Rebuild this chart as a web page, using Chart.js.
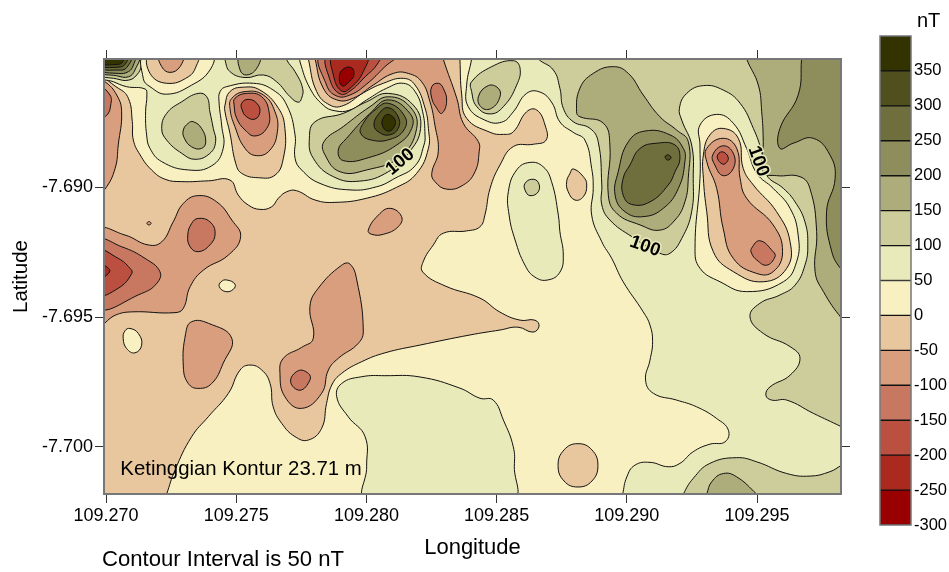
<!DOCTYPE html>
<html>
<head>
<meta charset="utf-8">
<title>Contour map</title>
<script src="https://cdn.jsdelivr.net/npm/chart.js@4/dist/chart.umd.min.js"></script>
<style>
html, body { margin: 0; padding: 0; background: #fff; }
#wrap { position: relative; width: 949px; height: 572px; }
canvas { position: absolute; left: 0; top: 0; }
</style>
</head>
<body>
<div id="wrap">
<canvas id="mapChart" width="949" height="572"></canvas>
<canvas id="barChart" width="949" height="572"></canvas>
</div>
<script>
// axis values
var lonTicks = [109.270, 109.275, 109.280, 109.285, 109.290, 109.295];
var latTicks = [-7.690, -7.695, -7.700];
var levels = [-300, -250, -200, -150, -100, -50, 0, 50, 100, 150, 200, 250, 300, 350];
var bandColors = ['#990000', '#AA2A1F', '#BB5040', '#C87860', '#D99E7D', '#E8C69E', '#F8F0C0',
                  '#E9EAB9', '#CCCD9A', '#ADAD7B', '#8D8E5B', '#6E6F3C', '#50501E', '#333300'];

// contours, [east, south] in 0.001 deg from 109.270 E / 7.690 S
var wholeMap = [[-.3,-5.1],[28.42,-5.1],[28.42,12],[-.3,12]];
var tanMain = [[-.3,-4.14],[.47,-3.82],[.86,-3.43],[1.01,-2.53],[1.05,-1.82],[1.31,-1.25],[1.75,-.67],[2.27,-.31],[2.91,-.22],[3.93,-.25],[4.76,-.28],[5.08,.30],[5.46,.68],[5.91,.85],[6.36,.75],[6.62,.42],[6.94,.17],[7.32,.13],[8.03,.49],[8.79,.58],[10.01,.42],[11.16,0],[11.93,-.54],[12.38,-1.50],[12.38,-2.27],[12.25,-3.06],[11.87,-3.94],[11.42,-4.20],[10.65,-4.01],[9.88,-3.64],[9.11,-3.15],[8.60,-3.17],[8.09,-3.69],[7.77,-4.95],[7.76,-5.1],[13.59,-5.1],[13.59,-4.95],[13.66,-3.56],[13.85,-2.66],[14.75,-2.12],[15.26,-2.04],[15.64,-2.14],[16.15,-2.91],[16.54,-2.98],[16.86,-2.40],[16.90,-1.82],[16.41,-1.66],[15.64,-1.57],[15.13,-.86],[14.75,.04],[14.55,1.07],[14.36,1.52],[13.85,1.68],[12.95,1.77],[12.57,2.22],[12.18,2.87],[12.17,3.27],[13.02,3.80],[14.36,4.27],[15.13,4.81],[15.90,5.12],[16.47,5.12],[16.63,5.35],[16.40,5.58],[15.82,5.39],[15.13,5.50],[13.98,5.69],[12.06,6.08],[10.71,6.38],[9.82,6.72],[9.05,7.17],[8.67,7.62],[8.47,8.33],[8.28,9.29],[7.77,9.74],[7.26,9.61],[6.75,9.10],[6.42,8.46],[6.30,7.56],[5.98,7.04],[5.53,6.85],[5.15,7.04],[4.70,7.94],[3.93,8.84],[3.29,9.61],[2.65,10.90],[2.33,11.82],[2.27,12],[-.3,12]];
var edgeNeg50 = [[-.3,-4.10],[-.04,-4.07],[.41,-3.56],[.60,-2.91],[.47,-1.63],[.35,-.73],[-.04,.07],[-.3,.18]];
var edgeNeg100 = [[-.3,-3.90],[.15,-3.56],[.18,-3.17],[.03,-2.78],[-.3,-2.67]];
var lobeNeg50 = [[-.3,1.68],[.73,1.84],[1.62,2.22],[2.14,2.10],[2.58,1.33],[2.97,.62],[3.54,.32],[4.25,.56],[4.83,1.26],[5.17,1.90],[4.70,2.61],[3.74,3.19],[3.23,3.83],[2.97,4.66],[2.65,4.83],[.99,4.80],[.35,4.93],[-.3,5.31]];
var lobeNeg100 = [[-.3,2.07],[.60,2.29],[1.50,2.74],[2.07,3.25],[1.95,3.70],[1.37,4.09],[-.3,4.61]];
var lobeNeg150 = [[-.3,2.46],[.47,2.74],[.92,3.12],[.99,3.32],[.47,3.89],[-.3,4.11]];
var lobeNeg200 = [[-.3,2.96],[.15,3.22],[-.3,3.50]];
var ovalNeg100 = [[3.54,1.20],[3.99,1.33],[4.19,1.77],[3.99,2.22],[3.54,2.48],[3.23,2.29],[3.14,1.84],[3.29,1.39]];
var tinyNeg50 = [[1.65,1.32],[1.73,1.39],[1.65,1.45],[1.57,1.39]];
var midNeg50 = [[10.07,1.65],[10.46,1.07],[10.91,.81],[11.35,1.13],[11.22,1.52],[10.65,1.81],[10.20,1.81]];
var creamA = [[4.63,3.57],[4.95,3.73],[4.89,3.93],[4.60,4.02],[4.35,3.83],[4.42,3.64]];
var creamB = [[.92,5.44],[1.24,5.63],[1.37,6.08],[1.11,6.38],[.79,6.21],[.66,5.82],[.73,5.53]];
var lowNeg50C = [[3.29,5.18],[3.93,5.24],[4.83,5.82],[4.50,6.78],[4.06,7.56],[3.54,7.75],[3.16,7.56],[2.97,6.92],[3.06,5.63]];
var lowNeg50D = [[9.37,2.96],[9.63,3.57],[9.88,5.50],[9.69,6.01],[8.92,6.59],[8.54,7.04],[8.28,7.94],[7.51,8.52],[6.87,8.07],[6.68,7.17],[6.81,6.59],[7.51,6.17],[7.96,5.82],[7.83,4.60],[8.15,3.89],[9.05,3.00]];
var lowNeg100E = [[7.38,7.07],[7.77,7.17],[7.83,7.43],[7.45,7.82],[7.09,7.49]];
var topNeg50 = [[12.95,-5.1],[12.95,-4.95],[13.47,-3.43],[13.72,-2.47],[14.30,-1.76],[14.33,-1.37],[14.17,-.60],[13.72,-.09],[13.08,.07],[12.63,-.22],[12.51,-.54],[12.76,-1.37],[12.63,-2.40],[12.44,-3.30],[12.12,-4.07],[11.61,-4.39],[11.03,-4.39],[10.26,-3.94],[9.50,-3.44],[8.86,-3.37],[8.34,-3.83],[8.03,-4.95],[8.03,-5.1]];
var topNeg100 = [[8.28,-5.1],[8.47,-3.94],[8.86,-3.52],[9.37,-3.56],[10.01,-3.98],[10.71,-4.65],[11.16,-5.1]];
var topNeg150 = [[8.54,-5.1],[8.60,-4.14],[8.99,-3.60],[9.37,-3.71],[9.95,-4.26],[10.39,-4.71],[10.52,-5.1]];
var topNeg200 = [[8.73,-5.1],[8.73,-4.33],[9.05,-3.71],[9.43,-3.87],[9.88,-4.46],[10.01,-5.1]];
var topNeg250 = [[8.96,-4.26],[9.11,-4.56],[9.43,-4.61],[9.52,-4.33],[9.37,-4.10],[9.07,-3.91]];
var islandNeg100 = [[12.51,-3.88],[12.76,-4.01],[12.95,-3.82],[13.08,-3.30],[12.89,-2.85],[12.70,-3.05],[12.51,-3.43]];
var smallTanA = [[17.94,-.71],[18.33,-.41],[18.46,-.09],[18.33,.36],[18.01,.49],[17.75,.17],[17.69,-.22],[17.82,-.54]];
var smallTanB = [[18.12,9.88],[18.66,10.12],[18.89,10.72],[18.66,11.32],[18.12,11.55],[17.59,11.32],[17.36,10.72],[17.59,10.12]];

var pos50Left = [[-.3,-4.29],[.28,-4.07],[.79,-3.88],[1.50,-3.79],[1.57,-3.56],[1.52,-2.91],[1.56,-2.02],[1.69,-1.50],[2.14,-.99],[3.16,-.67],[4.06,-.83],[4.50,-1.50],[4.44,-2.40],[4.34,-3.30],[4.38,-3.69],[4.63,-3.88],[5.66,-4.01],[6.42,-3.75],[6.94,-3.17],[7.26,-2.02],[7.26,-1.12],[7.51,-.67],[8.22,-.15],[9.37,.10],[10.39,-.02],[11.10,-.35],[11.87,-.83],[12.21,-1.63],[12.25,-2.02],[12.16,-2.91],[11.87,-3.69],[11.42,-4.01],[10.78,-3.82],[10.01,-3.37],[9.37,-2.98],[8.79,-2.95],[8.34,-3.17],[7.83,-3.82],[7.45,-4.83],[7.41,-5.1],[-.3,-5.1]];
var pos50Right = [[14.04,-5.1],[14.04,-4.95],[13.85,-3.94],[13.91,-3.11],[14.55,-2.59],[15.19,-2.51],[15.64,-2.91],[16.15,-3.62],[16.67,-3.67],[17.13,-3.25],[17.43,-2.52],[17.94,-2.12],[18.39,-1.82],[18.65,-.73],[18.71,.04],[18.65,1.07],[19.04,2.10],[19.42,2.74],[19.86,3.64],[20.63,4.80],[20.89,5.31],[20.99,5.95],[20.89,6.66],[20.72,7.43],[21.02,7.94],[21.91,8.20],[22.68,8.46],[23.45,8.91],[23.90,9.36],[23.77,9.81],[23.19,9.90],[22.55,10.19],[22.04,10.64],[21.59,10.77],[20.89,10.60],[20.31,10.71],[20.0,11.16],[19.84,11.83],[19.81,12],[28.42,12],[28.42,-5.1]];
var pos50Mid = [[10.01,12],[10.01,10.77],[9.95,9.61],[9.30,8.84],[8.86,8.07],[9.05,7.56],[9.82,7.30],[10.71,7.26],[12.06,7.31],[13.59,7.74],[14.36,8.13],[14.87,8.20],[15.26,8.97],[15.64,10.0],[15.68,10.77],[15.60,12]];
var pos50Oval = [[15.45,.17],[15.77,-.67],[16.28,-.96],[16.79,-.79],[17.11,-.22],[17.37,1.07],[17.43,1.71],[17.56,2.61],[17.43,3.27],[16.97,3.57],[16.47,3.46],[16.09,3.00],[15.71,2.03],[15.48,1.07]];
var pos100Small = [[16.09,-.15],[16.35,-.31],[16.60,-.19],[16.60,.17],[16.28,.32],[16.09,.10]];
var pos100Lobe = [[14.04,-4.07],[14.81,-4.65],[15.64,-4.88],[15.90,-4.59],[15.77,-3.94],[15.26,-3.11],[14.75,-2.83],[14.24,-3.11],[14.04,-3.69]];
var pos150Lobe = [[14.30,-3.49],[14.68,-3.92],[15.06,-3.82],[15.13,-3.49],[14.81,-3.05],[14.43,-3.07]];
var pos100Right = [[16.60,-5.1],[16.60,-4.95],[17.18,-4.52],[17.43,-3.82],[17.56,-3.05],[17.94,-2.53],[18.59,-2.27],[18.90,-1.76],[19.04,-.09],[19.04,.68],[19.35,1.26],[20.19,1.90],[21.27,2.54],[21.66,2.54],[22.11,1.97],[22.49,.94],[22.55,-.35],[22.49,-1.63],[22.11,-2.59],[22.02,-3.05],[22.30,-3.62],[22.94,-3.92],[23.70,-3.75],[24.35,-3.24],[24.86,-2.27],[25.18,-1.37],[25.37,-.47],[26.01,.04],[26.46,.56],[26.84,1.33],[26.95,2.22],[26.84,3.00],[26.46,3.77],[25.88,4.15],[25.11,4.47],[24.73,4.99],[25.24,5.63],[26.27,6.14],[26.65,6.59],[26.27,7.24],[25.50,7.69],[25.34,8.01],[25.56,8.20],[26.14,8.20],[27.16,8.71],[28.25,9.23],[28.42,9.32],[28.42,-5.1]];
var pos150Right = [[24.60,-5.1],[24.60,-4.95],[25.05,-3.94],[25.18,-2.91],[25.24,-1.76],[25.23,-.59],[25.75,-.45],[26.65,-.41],[27.03,.04],[27.29,1.71],[27.23,3.25],[27.55,4.02],[28.25,5.05],[28.42,5.12],[28.42,-5.1]];
var pos200Right = [[26.71,-5.1],[26.71,-4.95],[26.58,-3.56],[25.88,-2.27],[25.88,-1.50],[26.39,-1.70],[27.16,-1.89],[27.80,-1.25],[28.0,-.35],[27.67,.94],[27.87,2.48],[28.25,3.19],[28.42,3.26],[28.42,-5.1]];
// starts at the outside corner: a list with rising east values gets cut at the axis limit
var pos100Bot = [[28.42,12],[22.16,12],[22.17,11.83],[22.55,11.22],[23.19,10.64],[24.22,10.42],[24.99,10.58],[26.14,11.03],[27.03,11.13],[27.80,10.96],[28.25,10.71],[28.42,10.63]];
var pos150Bot = [[23.04,12],[23.07,11.83],[23.26,11.35],[23.71,11.03],[24.22,11.16],[24.99,11.83],[25.11,12]];
var pos150Dark = [[18.07,-2.91],[18.20,-3.82],[18.71,-4.39],[19.48,-4.65],[20.06,-4.39],[20.63,-3.56],[21.27,-2.72],[21.91,-2.21],[22.36,-1.76],[22.36,-.35],[22.23,.56],[21.85,1.26],[21.27,1.65],[20.51,1.45],[19.61,1.00],[19.29,.30],[19.35,-1.63],[19.10,-2.47],[18.20,-2.72]];
var pos200Dark = [[20.06,-1.76],[20.70,-2.17],[21.66,-2.02],[22.17,-1.50],[22.23,-.99],[21.98,.04],[21.40,.81],[20.63,1.13],[19.93,.94],[19.55,.30],[19.67,-.60]];
var pos250Dark = [[20.51,-1.50],[21.15,-1.70],[21.85,-1.63],[22.04,-1.12],[21.85,-.60],[21.59,-.09],[20.89,.56],[20.19,.66],[19.86,.30],[19.86,-.35],[20.12,-.86]];
var pos300Dark = [[21.47,-1.18],[21.59,-1.25],[21.70,-1.14],[21.57,-1.05]];
var blobCream = [[22.81,-2.40],[23.45,-2.81],[24.09,-2.47],[24.60,-1.50],[24.99,-.54],[25.62,.04],[26.27,.81],[26.58,1.84],[26.52,2.87],[26.01,3.64],[24.60,4.02],[23.58,3.64],[22.81,3.12],[22.62,2.35],[22.81,-.35],[22.81,-1.63]];
var blobTan = [[22.94,-1.25],[23.19,-2.02],[23.70,-2.27],[24.28,-1.89],[24.47,-.73],[24.86,-.09],[25.75,.94],[26.27,2.10],[26.14,3.12],[25.24,3.64],[24.09,3.25],[23.32,2.48],[23.07,.94],[22.94,-.35]];
var blobNeg50 = [[23.07,-1.50],[23.70,-1.89],[24.22,-1.50],[24.35,-.35],[24.60,.42],[25.62,1.45],[25.98,2.48],[25.62,3.25],[24.99,3.32],[24.09,2.74],[23.70,1.58],[23.45,.04],[23.07,-.99]];
var blobNeg100A = [[23.30,-1.25],[23.70,-1.60],[24.09,-1.31],[24.09,-.73],[23.70,-.45],[23.38,-.86]];
var blobNeg100B = [[24.79,2.35],[25.11,2.06],[25.62,2.48],[25.69,2.68],[25.37,3.00],[24.99,2.80],[24.79,2.54]];
var blobNeg150 = [[23.47,-1.18],[23.67,-1.37],[23.90,-1.12],[23.70,-.89]];
var pos100Blob = [[10.84,-3.62],[11.80,-3.17],[12.08,-2.27],[11.61,-1.31],[10.84,-.60],[9.75,-.24],[8.73,-.41],[7.96,-1.12],[7.81,-1.89],[8.03,-2.53],[9.11,-2.85],[10.01,-3.30]];
var pos150Blob = [[10.84,-3.49],[11.67,-3.11],[11.93,-2.27],[11.29,-1.18],[10.01,-.67],[8.99,-.60],[8.41,-1.25],[8.37,-1.76],[9.11,-2.34],[10.14,-3.11]];
var pos200Blob = [[10.84,-3.37],[11.67,-2.85],[11.74,-2.27],[11.16,-1.63],[10.07,-1.14],[9.11,-1.03],[8.92,-1.44],[9.24,-1.89],[10.14,-2.85]];
var pos250Blob = [[10.84,-3.24],[11.48,-2.72],[11.44,-2.21],[10.91,-1.85],[10.20,-1.82],[9.78,-2.08],[9.88,-2.47],[10.33,-2.98]];
var pos300Blob = [[10.84,-3.07],[11.22,-2.72],[11.22,-2.27],[10.88,-2.02],[10.49,-2.12],[10.29,-2.40],[10.49,-2.85]];
var pos350Blob = [[10.84,-2.81],[11.10,-2.59],[11.03,-2.27],[10.80,-2.17],[10.61,-2.40],[10.65,-2.68]];
var pos100West = [[3.54,-3.62],[3.87,-3.49],[3.99,-2.91],[4.12,-2.27],[4.21,-1.76],[3.99,-1.31],[3.42,-1.08],[2.91,-1.31],[2.33,-1.82],[2.14,-2.27],[2.33,-2.85],[2.91,-3.30]];
var pos150West = [[3.35,-2.53],[3.67,-2.27],[3.83,-1.76],[3.67,-1.50],[3.29,-1.56],[3.01,-1.89],[2.97,-2.21],[3.16,-2.47]];
var pos100Top = [[6.94,-5.1],[6.94,-4.91],[7.26,-4.46],[7.55,-3.82],[7.51,-3.43],[7.38,-3.28],[7.07,-3.49],[6.55,-4.07],[6.04,-4.33],[5.34,-4.23],[4.76,-4.46],[4.57,-4.91],[4.57,-5.1]];
var pos150Top = [[5.15,-5.1],[5.15,-4.52],[5.40,-4.33],[5.79,-4.59],[5.89,-5.1]];
var fan100 = [[-.3,-4.39],[.41,-4.18],[.86,-4.13],[1.18,-4.33],[1.37,-4.71],[1.41,-5.1],[-.3,-5.1]];
var fan150 = [[-.3,-4.48],[.41,-4.30],[.86,-4.26],[1.11,-4.52],[1.24,-5.1],[-.3,-5.1]];
var fan200 = [[-.3,-4.56],[.47,-4.39],[.86,-4.46],[1.05,-4.71],[1.09,-5.1],[-.3,-5.1]];
var fan250 = [[-.3,-4.63],[.47,-4.52],[.79,-4.61],[.95,-5.1],[-.3,-5.1]];
var fan300 = [[-.3,-4.71],[.47,-4.63],[.73,-4.74],[.82,-5.1],[-.3,-5.1]];
var fan350 = [[-.3,-4.79],[.47,-4.74],[.64,-4.84],[.69,-5.1],[-.3,-5.1]];
var topCream = [[1.50,-5.1],[1.43,-4.20],[1.69,-3.88],[2.33,-3.59],[3.29,-3.94],[3.99,-4.52],[4.06,-5.1]];
var topTan = [[1.69,-5.1],[1.69,-4.39],[2.33,-4.01],[3.16,-4.26],[3.48,-4.71],[3.52,-5.1]];
var topPink = [[2.07,-5.1],[2.14,-4.65],[2.46,-4.43],[2.84,-4.65],[2.93,-5.1]];
var westTan = [[4.57,-3.17],[4.76,-3.69],[5.27,-3.86],[5.91,-3.75],[6.62,-3.05],[6.87,-2.27],[6.81,-1.12],[6.49,-.47],[5.85,-.37],[5.21,-.54],[4.98,-.93],[4.76,-2.08],[4.57,-2.91]];
var westNeg50 = [[4.83,-3.43],[5.34,-3.69],[6.04,-3.56],[6.49,-2.91],[6.58,-2.14],[6.30,-1.44],[5.79,-1.22],[5.34,-1.50],[4.95,-2.34],[4.76,-3.05]];
var westNeg100 = [[4.95,-3.43],[5.40,-3.62],[5.98,-3.49],[6.27,-2.85],[6.17,-2.27],[5.72,-1.98],[5.34,-2.21],[5.02,-2.66],[4.92,-3.17]];
var westNeg150 = [[5.21,-3.24],[5.46,-3.39],[5.79,-3.24],[5.91,-2.91],[5.72,-2.63],[5.40,-2.72],[5.23,-2.98]];

// painted in this order, each one over the last: [lower level of band, contour]
var contours = [
    [0, wholeMap],
    [-50, tanMain], [-100, edgeNeg50], [-150, edgeNeg100], [-100, lobeNeg50], [-150, lobeNeg100],
    [-200, lobeNeg150], [-250, lobeNeg200], [-150, ovalNeg100], [-100, tinyNeg50], [-100, midNeg50],
    [0, creamA], [0, creamB], [-100, lowNeg50C], [-100, lowNeg50D], [-150, lowNeg100E],
    [-100, topNeg50], [-150, topNeg100], [-200, topNeg150], [-250, topNeg200], [-300, topNeg250], [-150, islandNeg100],
    [50, pos50Left], [50, pos50Right], [50, pos50Mid], [50, pos50Oval], [100, pos100Small],
    [-50, smallTanA], [-50, smallTanB],
    [100, pos100Lobe], [150, pos150Lobe], [100, pos100Right], [150, pos150Right], [200, pos200Right],
    [100, pos100Bot], [150, pos150Bot], [150, pos150Dark], [200, pos200Dark], [250, pos250Dark], [300, pos300Dark],
    [0, blobCream], [-50, blobTan], [-100, blobNeg50], [-150, blobNeg100A], [-150, blobNeg100B], [-200, blobNeg150],
    [100, pos100Blob], [150, pos150Blob], [200, pos200Blob], [250, pos250Blob], [300, pos300Blob], [350, pos350Blob],
    [100, pos100West], [150, pos150West], [100, pos100Top], [150, pos150Top],
    [100, fan100], [150, fan150], [200, fan200], [250, fan250], [300, fan300], [350, fan350],
    [0, topCream], [-50, topTan], [-100, topPink],
    [-50, westTan], [-100, westNeg50], [-150, westNeg100], [-200, westNeg150]
];

// contour labels: [east, south, text, angle]
var contourLabels = [[11.30, -.98, '100', -40], [20.70, 2.28, '100', 20], [25.05, -1.00, '100', 70]];

var LON0 = 109.27, LAT0 = -7.69;
var FONT = '"Liberation Sans", Arial, sans-serif';

function toPoints(line) {
    return line.map(function (p) {
        return { x: LON0 + p[0] / 1000, y: LAT0 - p[1] / 1000 };
    });
}

function bandColor(level) {
    return bandColors[levels.indexOf(level)];
}

// every contour is a closed ring, same flags the radar controller sets
var closeRings = {
    id: 'closeRings',
    beforeDatasetsUpdate: function (chart) {
        chart.data.datasets.forEach(function (ds, i) {
            var line = chart.getDatasetMeta(i).dataset;
            line._loop = true;
            line._fullLoop = true;
        });
    }
};

var mapTexts = {
    id: 'mapTexts',
    afterDatasetsDraw: function (chart) {
        var ctx = chart.ctx;
        var x = chart.scales.x, y = chart.scales.y;
        ctx.save();
        ctx.textBaseline = 'middle';
        ctx.textAlign = 'center';
        ctx.font = 'bold 18.5px ' + FONT;
        contourLabels.forEach(function (l) {
            ctx.save();
            ctx.translate(x.getPixelForValue(LON0 + l[0] / 1000), y.getPixelForValue(LAT0 - l[1] / 1000));
            ctx.rotate(l[3] * Math.PI / 180);
            ctx.lineWidth = 3;
            ctx.strokeStyle = bandColor(50);
            ctx.strokeText(l[2], 0, 0);
            ctx.fillStyle = '#000';
            ctx.fillText(l[2], 0, 0);
            ctx.restore();
        });
        ctx.textAlign = 'left';
        ctx.font = '20.4px ' + FONT;
        ctx.fillStyle = '#000';
        ctx.fillText('Ketinggian Kontur 23.71 m', x.getPixelForValue(LON0 + 0.00055), y.getPixelForValue(LAT0 - 0.01087));
        ctx.restore();
    },
    afterDraw: function (chart) {
        var ctx = chart.ctx;
        ctx.save();
        ctx.fillStyle = '#000';
        ctx.textBaseline = 'middle';
        ctx.font = '22.1px ' + FONT;
        ctx.fillText('Contour Interval is 50 nT', 102, 560);
        ctx.font = '20px ' + FONT;
        ctx.fillText('nT', 917, 21);
        ctx.restore();
    }
};

var edgeAxis = {
    border: { display: true, color: '#777', width: 2, z: 1 },
    grid: { drawOnChartArea: false, drawTicks: true, tickLength: 9, tickColor: '#333', tickWidth: 1 }
};

function axisOptions(position, ticks, bounds, labelled, fitSize, title) {
    return {
        type: 'linear',
        position: position,
        min: bounds[0],
        max: bounds[1],
        border: edgeAxis.border,
        grid: edgeAxis.grid,
        title: title,
        ticks: {
            display: labelled,
            autoSkip: false,
            maxRotation: 0,
            padding: 2,
            color: '#000',
            font: { family: FONT, size: 18 },
            callback: function (v) { return v.toFixed(3); }
        },
        afterBuildTicks: function (scale) {
            scale.ticks = ticks.map(function (v) { return { value: v }; });
        },
        afterFit: function (scale) {
            if (position === 'left' || position === 'right') { scale.width = fitSize; }
            else { scale.height = fitSize; }
        }
    };
}

var lonRange = [LON0 - 0.000077, LON0 + 0.028225];
var latRange = [LAT0 - 0.01182, LAT0 + 0.004946];

new Chart(document.getElementById('mapChart').getContext('2d'), {
    type: 'scatter',
    data: {
        datasets: contours.map(function (c, i) {
            return {
                data: toPoints(c[1]),
                showLine: true,
                fill: 'shape',
                backgroundColor: bandColor(c[0]),
                borderColor: '#111',
                borderWidth: 1,
                pointRadius: 0,
                tension: 0.45,
                order: contours.length - i
            };
        })
    },
    options: {
        responsive: false,
        animation: false,
        events: [],
        layout: { padding: { left: 0, right: 99, top: 50, bottom: 0 } },
        elements: { line: { capBezierPoints: false } },
        plugins: { legend: { display: false }, tooltip: { enabled: false } },
        scales: {
            x: axisOptions('bottom', lonTicks, lonRange, true, 78, {
                display: true, text: 'Longitude', color: '#000',
                font: { family: FONT, size: 22 }, padding: { top: 8, bottom: 11 }
            }),
            y: axisOptions('left', latTicks, latRange, true, 104, {
                display: true, text: 'Latitude', color: '#000',
                font: { family: FONT, size: 20.5 }, padding: { top: 9, bottom: 0 }
            }),
            x2: axisOptions('top', lonTicks, lonRange, false, 9),
            y2: axisOptions('right', latTicks, latRange, false, 9)
        }
    },
    plugins: [closeRings, mapTexts]
});

var barFrame = {
    id: 'barFrame',
    afterDraw: function (chart) {
        var a = chart.chartArea, ctx = chart.ctx;
        ctx.save();
        ctx.strokeStyle = '#777';
        ctx.lineWidth = 1.5;
        ctx.strokeRect(a.left, a.top, a.right - a.left, a.bottom - a.top);
        ctx.restore();
    }
};

new Chart(document.getElementById('barChart').getContext('2d'), {
    type: 'bar',
    data: {
        labels: ['nT'],
        datasets: levels.map(function (lv, i) {
            return {
                data: [[lv, lv + 50]],
                backgroundColor: bandColors[i],
                borderColor: '#111',
                borderWidth: { top: 1, bottom: 1, left: 0, right: 0 },
                borderSkipped: false,
                barPercentage: 1,
                categoryPercentage: 1,
                grouped: false
            };
        })
    },
    options: {
        responsive: false,
        animation: false,
        events: [],
        layout: { padding: { left: 880, right: 0, top: 36, bottom: 47 } },
        plugins: { legend: { display: false }, tooltip: { enabled: false } },
        scales: {
            x: { display: false },
            y: {
                position: 'right',
                min: -300,
                max: 400,
                border: { display: false },
                grid: { display: false, drawTicks: false },
                ticks: {
                    stepSize: 50,
                    padding: 3,
                    color: '#000',
                    font: { family: FONT, size: 16.5 },
                    callback: function (v) { return v === 400 ? '' : v; }
                },
                afterFit: function (scale) { scale.width = 38; }
            }
        }
    },
    plugins: [barFrame]
});
</script>
</body>
</html>
